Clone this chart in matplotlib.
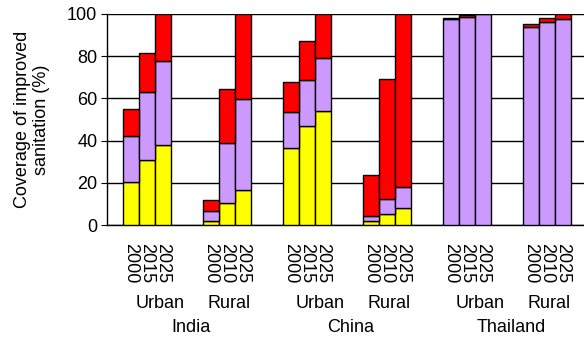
import numpy as np
import matplotlib.pyplot as plt

plt.rcParams['font.family'] = ['Liberation Sans', 'DejaVu Sans']

# Coverage of improved sanitation, stacked by component (%)
countries = ['India', 'China', 'Thailand']
areas = ['Urban', 'Rural']
years = [['2000', '2015', '2025'], ['2000', '2010', '2025']]

# cumulative tops per bar, order: India U, India R, China U, China R, Thailand U, Thailand R
yellow_top = [20.5, 30.8, 37.8, 1.9, 10.4, 16.7,
              36.5, 46.9, 54.0, 1.9, 5.2, 8.1,
              0, 0, 0, 0, 0, 0]
lilac_top = [42.2, 63.2, 77.6, 6.8, 38.7, 59.9,
             53.6, 68.9, 79.3, 4.1, 12.2, 17.9,
             97.5, 98.6, 100, 94.0, 96.2, 97.8]
red_top = [55.0, 81.7, 100, 11.7, 64.5, 100,
           67.9, 87.2, 100, 23.7, 69.0, 100,
           97.9, 99.4, 100, 95.3, 97.9, 100]

yellow = np.array(yellow_top)
lilac = np.array(lilac_top) - yellow
red = np.array(red_top) - np.array(lilac_top)

# bar positions: 3 bars per group, 2 empty slots between groups
n_groups = len(countries) * len(areas)
x = np.array([5 * g + j for g in range(n_groups) for j in range(3)])

fs = 13
fig = plt.figure(figsize=(5.84, 3.40), dpi=100)
ax = fig.add_axes([107 / 584, 1 - 225 / 340, 1 - 107 / 584, (225 - 14) / 340])

kw = dict(width=1.0, edgecolor='black', linewidth=1.0, zorder=3)
ax.bar(x, yellow, color='#ffff00', **kw)
ax.bar(x, lilac, bottom=yellow, color='#cc99ff', **kw)
ax.bar(x, red, bottom=yellow + lilac, color='#ff0000', **kw)

ax.set_xlim(-1.5, 28.31)
ax.set_ylim(0, 100)
ax.set_yticks(np.arange(0, 101, 20))
ax.yaxis.grid(True, color='black', linewidth=1.0, zorder=0)
ax.set_axisbelow(True)
for s in ['top', 'right']:
    ax.spines[s].set_visible(False)
ax.spines['left'].set_linewidth(1.0)
ax.spines['bottom'].set_linewidth(1.0)
ax.tick_params(axis='y', direction='out', length=4, labelsize=fs, pad=3)

tick_labels = [yr for c in countries for a in range(len(areas)) for yr in years[a]]
ax.set_xticks(x)
ax.set_xticklabels(tick_labels, rotation=270, fontsize=fs)
ax.tick_params(axis='x', length=0, pad=13)

ax.set_ylabel('Coverage of improved\nsanitation (%)', fontsize=fs, labelpad=12)

# area and country labels below the year ticks
trans = ax.get_xaxis_transform()
for g in range(n_groups):
    center = 5 * g + 1
    off = 0.8 if g % 2 == 0 else 0.15
    ax.text(center + off, -0.37, areas[g % 2], transform=trans,
            ha='center', va='center', fontsize=fs)
for c, name in enumerate(countries):
    mid = 10 * c + 3.5
    ax.text(mid + 0.25, -0.485, name, transform=trans,
            ha='center', va='center', fontsize=fs)

fig.savefig('out.png', dpi=100)
